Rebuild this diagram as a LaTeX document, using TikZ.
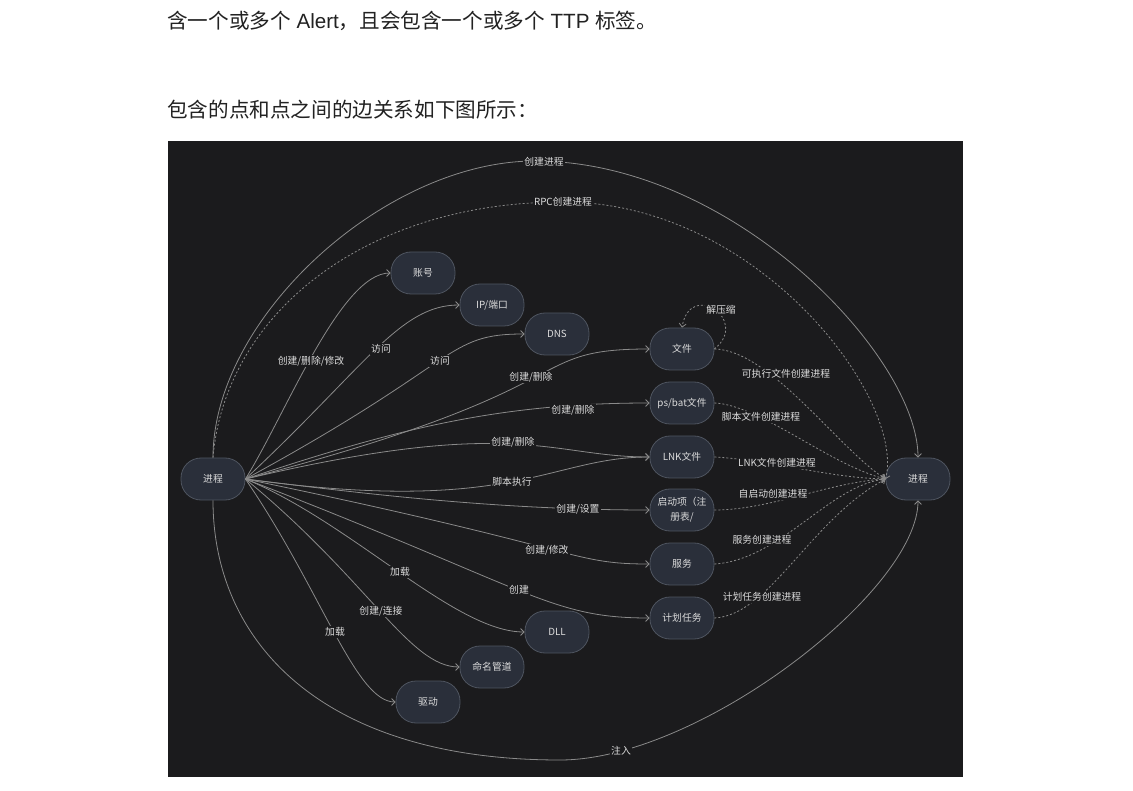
\documentclass[tikz,border=0pt]{standalone}
\usepackage{fontspec}
\setmainfont{Liberation Sans}
\newfontfamily\cjk{Noto Sans CJK SC}
\usetikzlibrary{arrows.meta}
\definecolor{bg}{HTML}{1B1B1D}
\definecolor{nodefill}{HTML}{2A2F3A}
\definecolor{nodeline}{HTML}{4E545F}
\definecolor{edgecol}{HTML}{8A8A8A}
\definecolor{txt}{HTML}{DCDCDC}
\definecolor{pagetxt}{HTML}{222222}
\begin{document}
\begin{tikzpicture}[x=1pt,y=-1pt,
  pill/.style={draw=nodeline, fill=nodefill, line width=0.8pt, rounded corners=20pt,
    minimum width=64pt, minimum height=42pt, inner sep=2pt, text=txt,
    font=\cjk\fontsize{9.8}{15}\selectfont, align=center},
  elabel/.style={fill=bg, inner sep=1pt, text=txt, font=\cjk\fontsize{9.8}{11}\selectfont},
  conn/.style={draw=edgecol, line width=0.8pt, -{Straight Barb[length=3.5pt,width=7pt]}},
  dconn/.style={conn, dash pattern=on 2pt off 2pt},
  ptext/.style={anchor=west, inner sep=0pt, text=pagetxt, font=\fontsize{20.6}{24}\selectfont}
]
\useasboundingbox (0,0) rectangle (1133,791);
\fill[white] (0,0) rectangle (1133,791);
\node[ptext] (t1) at (167,21) {{\cjk 含一个或多个} Alert{\cjk ，且会包含一个或多个} TTP {\cjk 标签。}};
\node[ptext] (t2) at (167,110) {{\cjk 包含的点和点之间的边关系如下图所示：}};
\fill[bg] (168,141) rectangle (963,777);

% nodes
\node[pill] (p1) at (213,479) {进程};
\node[pill] (acct) at (423,273) {账号};
\node[pill] (ip) at (492,305) {IP/端口};
\node[pill] (dns) at (557,334) {DNS};
\node[pill] (file) at (682,349) {文件};
\node[pill] (ps) at (682,403) {ps/bat文件};
\node[pill] (lnk) at (682,457) {LNK文件};
\node[pill] (reg) at (682,510) {启动项（注\\册表/};
\node[pill] (svc) at (682,564) {服务};
\node[pill] (task) at (682,618) {计划任务};
\node[pill] (dll) at (557,632) {DLL};
\node[pill] (pipe) at (492,667) {命名管道};
\node[pill] (drv) at (428,702) {驱动};
\node[pill] (p2) at (918,479) {进程};

\coordinate (topA) at (535,161);
\coordinate (topB) at (563,202);
\coordinate (botA) at (560,760);

% fan edges
\draw[conn] (p1.east) .. controls +(40,-64) and +(-50,0) .. (acct.west);
\draw[conn] (p1.east) .. controls +(120,-112) and +(-60,0) .. (ip.west);
\draw[conn] (p1.east) .. controls +(219,-119) and +(-80,0) .. (dns.west);
\draw[conn] (p1.east) .. controls +(350,-91) and +(-130,0) .. (file.west);
\draw[conn] (p1.east) .. controls +(150,-50) and +(-150,0) .. (ps.west);
\draw[conn] (p1.east) .. controls +(272,-64) and +(-100,0) .. (lnk.west);
\draw[conn] (p1.east) .. controls +(269,37) and +(-100,0) .. (lnk.west);
\draw[conn] (p1.east) .. controls +(120,15) and +(-150,0) .. (reg.west);
\draw[conn] (p1.east) .. controls +(343,71) and +(-80,0) .. (svc.west);
\draw[conn] (p1.east) .. controls +(288,111) and +(-100,0) .. (task.west);
\draw[conn] (p1.east) .. controls +(107,44) and +(-70,0) .. (dll.west);
\draw[conn] (p1.east) .. controls +(123,101) and +(-50,0) .. (pipe.west);
\draw[conn] (p1.east) .. controls +(76,111) and +(-40,0) .. (drv.west);

% big arcs
\draw[conn] (p1.north) .. controls +(0,-140) and (385,161) .. (topA) .. controls (735,161) and (918,358) .. (p2.north);
\draw[dconn] (p1.north) .. controls +(12,-142) and (363,202) .. (topB) .. controls (760,202) and (905,400) .. (p2.west);
\draw[conn] (p1.south) .. controls +(0,140) and (320,760) .. (botA) .. controls (700,760) and (918,590) .. (p2.south);

% dashed edges to process
\draw[dconn] (file.east) .. controls +(36,-29) and +(8,-48) .. (file.north);
\draw[dconn] (file.east) .. controls +(56,1) and +(-46,-29) .. (p2.west);
\draw[dconn] (ps.east) .. controls +(46,2) and +(-56,-14) .. (p2.west);
\draw[dconn] (lnk.east) .. controls +(56,3) and +(-56,-1) .. (p2.west);
\draw[dconn] (reg.east) .. controls +(56,0) and +(-56,3) .. (p2.west);
\draw[dconn] (svc.east) .. controls +(66,-4) and +(-56,6) .. (p2.west);
\draw[dconn] (task.east) .. controls +(56,-3) and +(-76,41) .. (p2.west);

% labels
\node[elabel] (l1) at (311,361) {创建/删除/修改};
\node[elabel] (l2) at (381,349) {访问};
\node[elabel] (l3) at (440,361) {访问};
\node[elabel] (l4) at (531,377) {创建/删除};
\node[elabel] (l5) at (573,410) {创建/删除};
\node[elabel] (l6) at (513,442) {创建/删除};
\node[elabel] (l7) at (512,482) {脚本执行};
\node[elabel] (l8) at (578,509) {创建/设置};
\node[elabel] (l9) at (547,550) {创建/修改};
\node[elabel] (l10) at (519,590) {创建};
\node[elabel] (l11) at (400,572) {加载};
\node[elabel] (l12) at (381,611) {创建/连接};
\node[elabel] (l13) at (335,632) {加载};
\node[elabel] (l14) at (544,162) {创建进程};
\node[elabel] (l15) at (563,202) {RPC创建进程};
\node[elabel] (l16) at (621,751) {注入};
\node[elabel] (l17) at (721,310) {解压缩};
\node[elabel] (l18) at (786,374) {可执行文件创建进程};
\node[elabel] (l19) at (761,417) {脚本文件创建进程};
\node[elabel] (l20) at (777,463) {LNK文件创建进程};
\node[elabel] (l21) at (773,494) {自启动创建进程};
\node[elabel] (l22) at (762,540) {服务创建进程};
\node[elabel] (l23) at (762,597) {计划任务创建进程};
\end{tikzpicture}
\end{document}
